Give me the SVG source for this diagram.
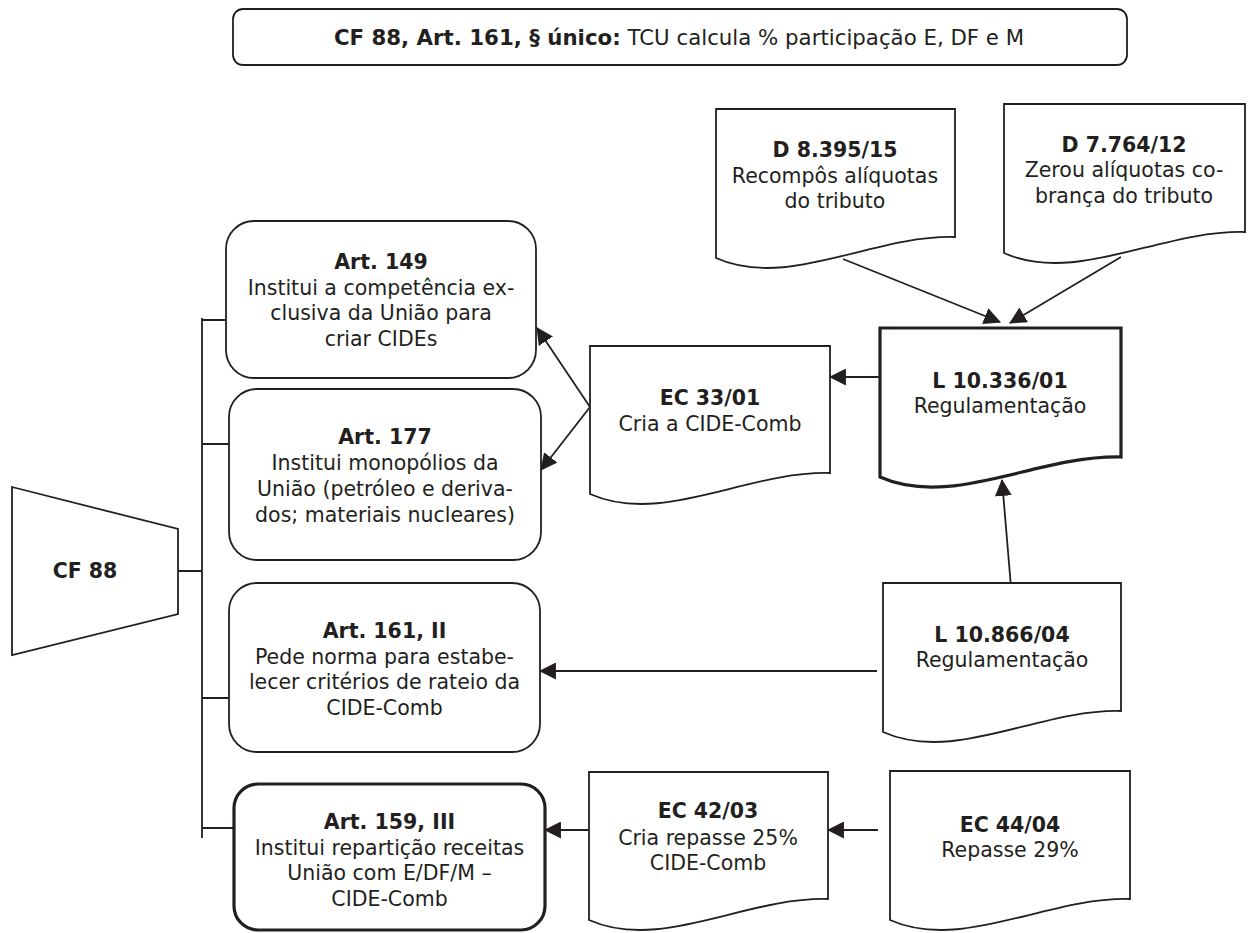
<svg xmlns="http://www.w3.org/2000/svg" width="1254" height="933" viewBox="0 0 1254 933">
<defs>
<style>
.s{fill:#fff;stroke:#231f20;stroke-width:1.8}
.k{stroke-width:3.2}
.c{fill:none;stroke:#231f20;stroke-width:1.8}
.t{font-family:"DejaVu Sans",Verdana,sans-serif;font-size:20.5px;fill:#231f20;text-anchor:middle}
.b{font-weight:bold}
.h{font-size:21.3px}
</style>
<marker id="ah" viewBox="0 0 16 16" markerWidth="17" markerHeight="17" refX="15" refY="8" orient="auto" markerUnits="userSpaceOnUse">
<path d="M0,0 L16,8 L0,16 Z" fill="#231f20"/>
</marker>
</defs>
<rect width="1254" height="933" fill="#fff"/>

<g id="top">
<rect class="s" x="233" y="9" width="894" height="56" rx="10"/>
<text class="t h" x="679" y="45"><tspan class="b">CF 88, Art. 161, § único:</tspan> TCU calcula % participação E, DF e M</text>
</g>

<g id="cf88">
<path class="s" d="M12,487 L178,529 L178,614 L12,655 Z"/>
<text class="t b" x="85" y="578">CF 88</text>
</g>

<g id="connectors">
<path class="c" d="M178,571 H202 M202,318 V838 M202,320 H226 M202,444 H229 M202,698 H229 M202,828 H234"/>
<line class="c" x1="590" y1="407" x2="537" y2="328" marker-end="url(#ah)"/>
<line class="c" x1="590" y1="407" x2="541" y2="470" marker-end="url(#ah)"/>
<line class="c" x1="880" y1="377" x2="830" y2="377" marker-end="url(#ah)"/>
<line class="c" x1="843" y1="259" x2="1000" y2="322" marker-end="url(#ah)"/>
<line class="c" x1="1121" y1="257" x2="1010" y2="323" marker-end="url(#ah)"/>
<line class="c" x1="1011" y1="587" x2="1002" y2="480" marker-end="url(#ah)"/>
<line class="c" x1="877" y1="671" x2="540" y2="671" marker-end="url(#ah)"/>
<line class="c" x1="878" y1="830" x2="828" y2="830" marker-end="url(#ah)"/>
<line class="c" x1="589" y1="830" x2="545" y2="830" marker-end="url(#ah)"/>
</g>

<g id="art149">
<rect class="s" x="226" y="221" width="310" height="157" rx="28"/>
<text class="t b" x="381" y="269">Art. 149</text>
<text class="t" x="381" y="295">Institui a competência ex-</text>
<text class="t" x="381" y="320">clusiva da União para</text>
<text class="t" x="381" y="346">criar CIDEs</text>
</g>

<g id="art177">
<rect class="s" x="229" y="389" width="312" height="171" rx="28"/>
<text class="t b" x="385" y="444">Art. 177</text>
<text class="t" x="385" y="470">Institui monopólios da</text>
<text class="t" x="385" y="496">União (petróleo e deriva-</text>
<text class="t" x="385" y="522">dos; materiais nucleares)</text>
</g>

<g id="art161">
<rect class="s" x="229" y="583" width="311" height="169" rx="28"/>
<text class="t b" x="384.5" y="638">Art. 161, II</text>
<text class="t" x="384.5" y="663.5">Pede norma para estabe-</text>
<text class="t" x="384.5" y="689">lecer critérios de rateio da</text>
<text class="t" x="384.5" y="714.5">CIDE-Comb</text>
</g>

<g id="art159">
<rect class="s k" x="234" y="784" width="311" height="146" rx="24"/>
<text class="t b" x="389.5" y="829">Art. 159, III</text>
<text class="t" x="389.5" y="854.5">Institui repartição receitas</text>
<text class="t" x="389.5" y="880">União com E/DF/M –</text>
<text class="t" x="389.5" y="905.5">CIDE-Comb</text>
</g>

<g id="d8395">
<path class="s" d="M716,109 H955 V237 C871,235 788,290 716,258 Z"/>
<text class="t b" x="835" y="157">D 8.395/15</text>
<text class="t" x="835" y="183">Recompôs alíquotas</text>
<text class="t" x="835" y="208">do tributo</text>
</g>

<g id="d7764">
<path class="s" d="M1004,104 H1245 V232 C1161,230 1076,285 1004,253 Z"/>
<text class="t b" x="1124" y="152">D 7.764/12</text>
<text class="t" x="1124" y="177">Zerou alíquotas co-</text>
<text class="t" x="1124" y="203">brança do tributo</text>
</g>

<g id="ec3301">
<path class="s" d="M590,346 H830 V473 C746,471 662,526 590,494 Z"/>
<text class="t b" x="710" y="405">EC 33/01</text>
<text class="t" x="710" y="431">Cria a CIDE-Comb</text>
</g>

<g id="l10336">
<path class="s k" d="M880,328 H1121 V457 C1037,455 952,509 880,477 Z"/>
<text class="t b" x="1000" y="388">L 10.336/01</text>
<text class="t" x="1000" y="413">Regulamentação</text>
</g>

<g id="l10866">
<path class="s" d="M883,583 H1121 V711 C1038,709 955,764 883,732 Z"/>
<text class="t b" x="1002" y="642">L 10.866/04</text>
<text class="t" x="1002" y="667">Regulamentação</text>
</g>

<g id="ec4203">
<path class="s" d="M589,772 H828 V899 C744,897 661,952 589,920 Z"/>
<text class="t b" x="708" y="818">EC 42/03</text>
<text class="t" x="708" y="845">Cria repasse 25%</text>
<text class="t" x="708" y="870">CIDE-Comb</text>
</g>

<g id="ec4404">
<path class="s" d="M890,771 H1130 V899 C1046,897 962,952 890,920 Z"/>
<text class="t b" x="1010" y="832">EC 44/04</text>
<text class="t" x="1010" y="857">Repasse 29%</text>
</g>
</svg>
